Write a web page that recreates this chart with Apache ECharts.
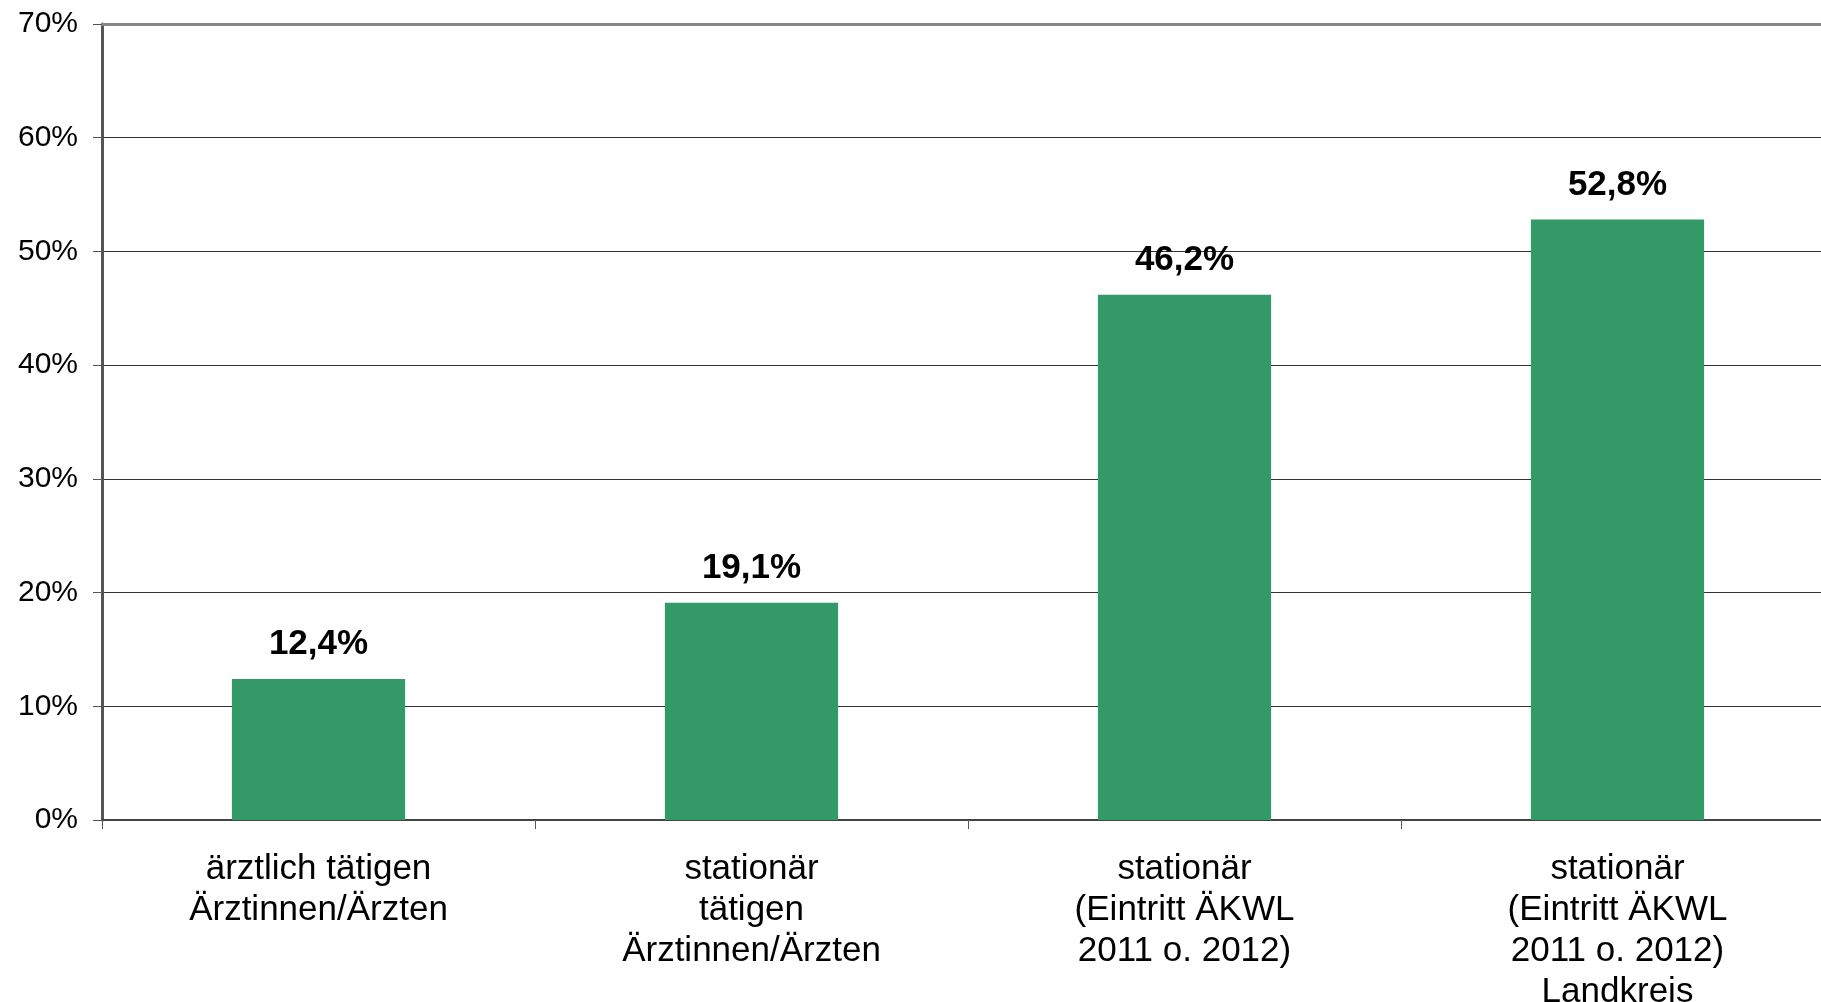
<!DOCTYPE html>
<html>
<head>
<meta charset="utf-8">
<script src="https://cdn.jsdelivr.net/npm/echarts@6/dist/echarts.min.js"></script>
<style>
  html, body { margin: 0; padding: 0; background: #fff; }
  #chart { width: 1821px; height: 1002px; }
</style>
</head>
<body>
<div id="chart"></div>
<script>
// Anteil je Gruppe (in Prozent)
const categories = [
  'ärztlich tätigen\nÄrztinnen/Ärzten',
  'stationär\ntätigen\nÄrztinnen/Ärzten',
  'stationär\n(Eintritt ÄKWL\n2011 o. 2012)',
  'stationär\n(Eintritt ÄKWL\n2011 o. 2012)\nLandkreis'
];
const values = [12.4, 19.1, 46.2, 52.8];
const yTicks = [0, 10, 20, 30, 40, 50, 60, 70];

const font = '"Liberation Sans", Arial, Helvetica, sans-serif';
const chart = echarts.init(document.getElementById('chart'));

chart.setOption({
  backgroundColor: '#ffffff',
  animation: false,
  grid: {
    left: 102, top: 24, bottom: 182, right: -13,
    containLabel: false, outerBoundsMode: 'none'
  },
  xAxis: [{
    type: 'category',
    data: categories,
    position: 'bottom',
    axisLine: { lineStyle: { color: '#444', width: 2 } },
    axisTick: { show: true, length: 9, lineStyle: { color: '#555', width: 1 } },
    axisLabel: {
      color: '#000', fontFamily: font, fontSize: 35, lineHeight: 41,
      margin: 29, interval: 0
    }
  }, {
    type: 'category',
    data: categories,
    position: 'top',
    axisLine: { lineStyle: { color: '#888', width: 3 } },
    axisTick: { show: false },
    axisLabel: { show: false }
  }],
  yAxis: {
    type: 'value',
    min: yTicks[0],
    max: yTicks[yTicks.length - 1],
    interval: 10,
    axisLine: { show: true, lineStyle: { color: '#555', width: 3 } },
    axisTick: { show: true, length: 9, lineStyle: { color: '#555', width: 1 } },
    axisLabel: {
      color: '#000', fontFamily: font, fontSize: 30, margin: 24,
      formatter: v => v + '%'
    },
    splitLine: { show: true, lineStyle: { color: '#333', width: 1 } }
  },
  series: [{
    type: 'bar',
    data: values,
    barWidth: '40%',
    itemStyle: { color: '#339966' },
    label: {
      show: true,
      position: 'top',
      distance: 17,
      color: '#000',
      fontFamily: font,
      fontWeight: 'bold',
      fontSize: 35,
      formatter: p => p.value.toFixed(1).replace('.', ',') + '%'
    }
  }]
});
</script>
</body>
</html>
